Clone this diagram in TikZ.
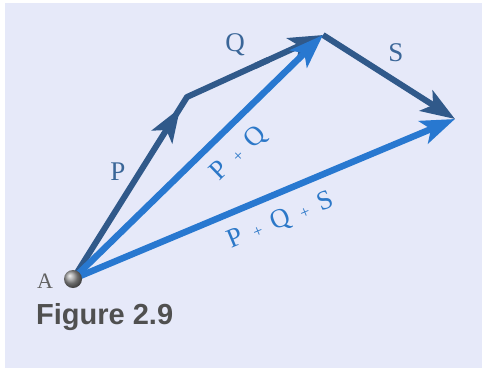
\documentclass[tikz,border=0pt]{standalone}
\usepackage{fontspec}
\setmainfont{Liberation Serif}
\newfontfamily\figfont{Liberation Sans}
\usetikzlibrary{arrows.meta,calc}
\definecolor{bgcol}{HTML}{E6E9F9}
\definecolor{darkvec}{HTML}{30598A}
\definecolor{bluevec}{HTML}{2878D0}
\definecolor{darklab}{HTML}{3A6698}
\definecolor{bluelab}{HTML}{2C78C8}
\definecolor{figgray}{HTML}{505050}
\newcommand{\pls}{\hspace{11pt}{\fontsize{17}{17}\selectfont +}\hspace{11pt}}
\begin{document}
\begin{tikzpicture}[x=1pt,y=-1pt,
  darkline/.style={draw=darkvec,line width=6pt,line join=round},
  blueline/.style={draw=bluevec,line width=6.5pt,line join=round},
  tipd/.style={arrows={-Stealth[length=34pt,width=24pt,inset=8pt]}},
  lab/.style={font=\fontsize{27}{27}\selectfont,inner sep=0pt},
]
\useasboundingbox (0,0) rectangle (482,368);
\fill[white] (0,0) rectangle (482,368);
\fill[bgcol] (5,3) rectangle (482,368);
\coordinate (A) at (73,279);
\coordinate (B) at (187,97);
\coordinate (C) at (323,35);
\coordinate (D) at (455,119);
% dark vectors
\draw[darkline,tipd] (A) -- ($(A)!0.94!(B)$);
\draw[darkline] ($(A)!0.85!(B)$) -- (B) -- ($(B)!0.6!(C)$);
\draw[darkline,tipd] ($(B)!0.5!(C)$) -- (C);
\draw[darkline,tipd] (C) -- (D);
% resultants
\draw[blueline,tipd] (A) -- (C);
\draw[blueline,tipd] (A) -- (D);
% point A
\shade[ball color=gray!80] (A) circle (9);
% labels
\node[lab,text=darklab] (lP) at (118,172) {P};
\node[lab,text=darklab] (lQ) at (235,45) {Q};
\node[lab,text=darklab] (lS) at (396,53) {S};
\node[lab,text=bluelab,rotate=44] (lPQ) at (239,154) {P\pls Q};
\node[lab,text=bluelab,rotate=22.7] (lPQS) at (281,221) {P\pls Q\pls S};
\node[lab,text=figgray!90] (lA) at (45,281) {\fontsize{22}{22}\selectfont A};
\node[anchor=base west,inner sep=0pt,text=figgray] (fig) at (36,324)
  {\figfont\bfseries\fontsize{29}{29}\selectfont Figure 2.9};
\end{tikzpicture}
\end{document}
